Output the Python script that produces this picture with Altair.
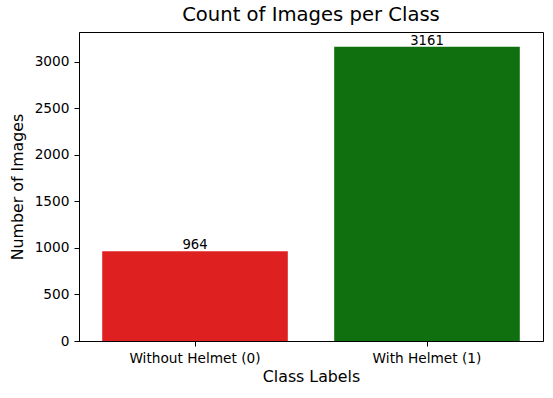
import altair as alt
import pandas as pd

categories = ["Without Helmet (0)", "With Helmet (1)"]
counts = [964, 3161]
colors = ["#df2020", "#107010"]
y_ticks = [0, 500, 1000, 1500, 2000, 2500, 3000]

df = pd.DataFrame({"label": categories, "count": counts})

FONT = "DejaVu Sans"
TICK_FS = 13.7
AXT_FS = 15.8

x = alt.X("label:N", sort=categories, title="Class Labels",
          scale=alt.Scale(paddingInner=0.2, paddingOuter=0.1),
          axis=alt.Axis(labelAngle=0, labelFontSize=TICK_FS, titleFontSize=AXT_FS,
                        titlePadding=5, labelPadding=5, tickSize=5))
y = alt.Y("count:Q", title="Number of Images",
          scale=alt.Scale(domain=[0, 3319], nice=False, zero=True),
          axis=alt.Axis(values=y_ticks, format="d",
                        grid=False, labelFontSize=TICK_FS, titleFontSize=AXT_FS,
                        titlePadding=9, labelPadding=5, tickSize=5))

bars = alt.Chart(df).mark_bar().encode(
    x=x, y=y,
    color=alt.Color("label:N", scale=alt.Scale(domain=categories, range=colors), legend=None),
)
text = alt.Chart(df).mark_text(baseline="alphabetic", dy=-2, fontSize=13.2, font=FONT, color="black").encode(
    x=alt.X("label:N", sort=categories), y="count:Q", text="count:Q"
)

chart = (bars + text).properties(
    width=464, height=309,
    title=alt.TitleParams("Count of Images per Class", fontSize=19.6, font=FONT,
                          fontWeight="normal", offset=6, color="black"),
    autosize=alt.AutoSizeParams(type="none"),
    padding={"left": 79, "top": 32, "right": 10, "bottom": 57},
    background="white",
).configure_view(stroke="black", strokeWidth=1).configure_axis(
    domainColor="black", tickColor="black", labelColor="black", titleColor="black",
    labelFont=FONT, titleFont=FONT, titleFontWeight="normal", domainWidth=1,
)

chart.save("out.html", embed_options={"renderer": "svg", "actions": False})
